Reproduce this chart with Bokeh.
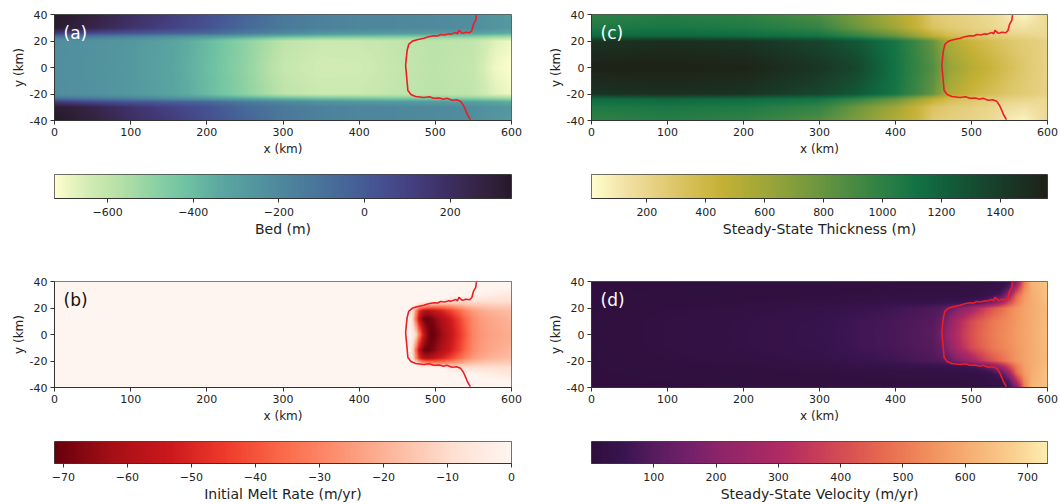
import numpy as np
from bokeh.embed import file_html
from bokeh.resources import INLINE
from bokeh.layouts import column, row
from bokeh.models import FixedTicker, Label, LinearColorMapper, Range1d
from bokeh.plotting import figure

x_ticks = [0, 100, 200, 300, 400, 500, 600]
y_ticks = [-40, -20, 0, 20, 40]
y_tick_labels = {-40: "-40", -20: "-20", 0: "0", 20: "20", 40: "40"}

# Half-width table rows (fields are mirrored about y = 0), km
bed_x = [0, 50, 100, 150, 200, 250, 300, 350, 400, 450, 500, 550, 580, 600]
bed_y = [0, 20, 22, 24, 26, 30, 40]
bed_m = [
    [-225, -240, -270, -320, -400, -500, -610, -645, -640, -610, -590, -610, -700, -722],
    [-222, -238, -265, -312, -392, -490, -590, -625, -625, -600, -585, -600, -670, -700],
    [-175, -190, -222, -270, -340, -420, -490, -525, -535, -535, -540, -555, -590, -610],
    [-50, -90, -130, -180, -230, -290, -350, -385, -400, -410, -420, -440, -470, -490],
    [130, 70, 20, -20, -60, -140, -200, -245, -265, -275, -285, -300, -330, -350],
    [320, 250, 170, 100, 30, -60, -130, -165, -185, -195, -200, -220, -250, -270],
    [345, 280, 190, 130, 45, -40, -125, -165, -185, -195, -205, -225, -260, -285],
]

thick_x = [0, 100, 200, 300, 350, 400, 430, 450, 470, 500, 530, 550, 570, 600]
thick_y = [0, 20, 24, 30, 40]
thick_m = [
    [1555, 1555, 1545, 1440, 1345, 1110, 960, 860, 640, 510, 420, 350, 280, 215],
    [1450, 1480, 1450, 1350, 1250, 1090, 930, 800, 540, 420, 340, 290, 260, 215],
    [1150, 1180, 1150, 1100, 980, 800, 620, 470, 370, 300, 250, 220, 200, 180],
    [1060, 1080, 1060, 980, 780, 600, 430, 320, 270, 230, 190, 150, 130, 170],
    [1000, 1030, 1000, 880, 720, 530, 420, 270, 240, 210, 170, 90, 50, 180],
]

melt_x = [0, 465, 470, 475, 480, 485, 490, 495, 500, 510, 520, 530, 540, 550, 560, 570, 600]
melt_y = [0, 12, 18, 22, 25, 30, 35, 40]
melt_rate = [
    [0, 0, -2, -10, -35, -55, -66, -71, -70, -63, -56, -48, -39, -30, -26, -24, -21],
    [0, 0, -8, -35, -60, -69, -71, -69, -66, -59, -53, -45, -36, -29, -25, -23, -19],
    [0, 0, -6, -28, -50, -58, -60, -58, -55, -50, -44, -37, -30, -25, -22, -20, -17],
    [0, 0, 0, -5, -14, -20, -24, -26, -27, -27, -25, -21, -18, -16, -15, -14, -13],
    [0, 0, 0, 0, 0, 0, 0, 0, 0, 0, -6, -8, -9, -9, -9, -9, -9],
    [0, 0, 0, 0, 0, 0, 0, 0, 0, 0, 0, 0, 0, -1, -2, -3, -6],
    [0, 0, 0, 0, 0, 0, 0, 0, 0, 0, 0, 0, 0, 0, 0, 0, -1],
    [0, 0, 0, 0, 0, 0, 0, 0, 0, 0, 0, 0, 0, 0, 0, 0, 0],
]

vel_x = [0, 100, 200, 300, 350, 400, 450, 460, 470, 480, 490, 500, 510, 520, 530, 540, 550, 560, 570, 580, 600]
vel_y = [0, 10, 20, 24, 27, 30, 35, 40]
vel_myr = [
    [6, 18, 28, 42, 62, 78, 105, 150, 240, 300, 360, 410, 450, 480, 505, 525, 545, 565, 585, 600, 640],
    [6, 18, 27, 40, 60, 76, 100, 130, 200, 280, 340, 395, 435, 470, 500, 520, 540, 560, 580, 600, 635],
    [5, 14, 20, 32, 45, 62, 85, 95, 120, 170, 210, 260, 320, 380, 430, 470, 520, 555, 580, 600, 630],
    [5, 10, 15, 22, 30, 38, 44, 48, 50, 54, 60, 72, 90, 130, 190, 280, 400, 510, 570, 600, 640],
    [5, 8, 12, 18, 22, 26, 28, 30, 32, 34, 38, 42, 52, 70, 110, 170, 320, 490, 565, 600, 645],
    [5, 7, 10, 14, 16, 18, 20, 20, 20, 20, 22, 24, 26, 35, 55, 90, 230, 460, 560, 605, 650],
    [4, 6, 8, 11, 13, 15, 16, 16, 16, 16, 18, 20, 22, 26, 30, 40, 110, 330, 530, 610, 650],
    [4, 5, 6, 8, 10, 12, 12, 12, 13, 13, 14, 15, 16, 18, 25, 30, 45, 180, 500, 620, 650],
]

# Grounding line (km)
gl_x = [554, 553, 550, 548, 545, 540, 537, 535, 531, 529, 527, 524, 520, 518, 512, 507, 503, 498, 491, 485,
        476, 470, 465, 463, 462, 461, 462, 463, 464, 468, 474, 485, 492, 498, 505, 511, 515, 522, 528, 533,
        537, 540, 542, 546]
gl_y = [39.5, 35.5, 32.5, 27.9, 26.2, 26.6, 26, 25.9, 28, 25.4, 26.4, 25.9, 25, 25.4, 24.5, 24.9, 23.8, 23.9, 23.2, 22.1,
        20.9, 19.9, 17.4, 12.8, 7.8, 1.5, -4.8, -11.1, -17.4, -20.4, -21.9, -22.6, -22.1, -23.2, -23, -23.9, -23.2, -24.7, -24.3, -25.4,
        -28.7, -32.5, -35.5, -39.3]

deep = ["#fdfecc", "#d3ecb5", "#b5e0a7", "#8ed2a4", "#6fc3a3", "#5ca9a1", "#54989f", "#4e879d",
        "#49769a", "#466498", "#465192", "#443f80", "#3d2f63", "#352444", "#281a2c"]
speed = ["#fffdcd", "#f2e2a6", "#e5cf7e", "#d6bf57", "#c4b135", "#a8a938", "#8aa03b", "#6b963f",
         "#4a8b43", "#2c8045", "#127244", "#125d3a", "#17482e", "#1a3423", "#1e2216"]
reds = ["#67000d", "#a50f15", "#cb181d", "#ef3b2c", "#fb6a4a", "#fc9272", "#fcbba1", "#fee0d2", "#fff5f0"]
matter = ["#2f0f3d", "#3a1450", "#5a1c5f", "#74206a", "#8f2569", "#a12766", "#b42c62", "#c93e59",
          "#da5351", "#e76b50", "#ef8558", "#f4a067", "#f7b87a", "#fad090", "#fdedb0"]


def ramp(colors, n=256):
    rgb = np.array([[int(c[i:i + 2], 16) for i in (1, 3, 5)] for c in colors], dtype=float)
    at = np.linspace(0, 1, len(colors))
    t = np.linspace(0, 1, n)
    out = np.stack([np.interp(t, at, rgb[:, k]) for k in range(3)], axis=1).round().astype(int)
    return ["#%02x%02x%02x" % tuple(v) for v in out]


def field(xs, ys, table):
    px = np.linspace(0, 600, 601)
    py = np.abs(np.linspace(-40, 40, 161))
    t = np.array(table, dtype=float)
    across = np.stack([np.interp(px, xs, r) for r in t])
    return np.stack([np.interp(py, ys, across[:, i]) for i in range(px.size)], axis=1)


TICK = "#222222"
LEFT = {"l": 54, "r": 34, "w": 545}
RIGHT = {"l": 46, "r": 13, "w": 515}


def style(ax, ticks, size="11px"):
    ax.ticker = FixedTicker(ticks=ticks)
    ax.major_tick_in = 0
    ax.major_tick_out = 4
    ax.minor_tick_line_color = None
    ax.major_label_text_font = "DejaVu Sans"
    ax.major_label_text_font_size = size
    ax.major_label_text_color = TICK
    ax.major_label_standoff = 3
    ax.axis_line_color = "#333333"
    ax.major_tick_line_color = "#333333"
    ax.axis_label_text_font = "DejaVu Sans"
    ax.axis_label_text_font_style = "normal"
    ax.axis_label_text_color = TICK


def panel(side, fig_h, top, xs, ys, table, colors, low, high, tag, tag_color):
    p = figure(width=side["w"], height=fig_h, x_range=Range1d(0, 600), y_range=Range1d(-40, 40),
               toolbar_location=None, output_backend="svg", min_border_left=side["l"], min_border_right=side["r"],
               min_border_top=top, min_border_bottom=fig_h - top - 106, background_fill_color=None, border_fill_color=None)
    p.grid.visible = False
    mapper = LinearColorMapper(palette=ramp(colors), low=low, high=high)
    p.image(image=[field(xs, ys, table)], x=0, y=-40, dw=600, dh=80, color_mapper=mapper)
    p.line(gl_x, gl_y, line_color="#ee1c25", line_width=1.6)
    p.outline_line_color = "#555555"
    style(p.xaxis[0], x_ticks)
    style(p.yaxis[0], y_ticks)
    p.yaxis[0].major_label_overrides = y_tick_labels
    p.xaxis[0].axis_label = "x (km)"
    p.yaxis[0].axis_label = "y (km)"
    p.xaxis[0].axis_label_text_font_size = "12px"
    p.yaxis[0].axis_label_text_font_size = "12px"
    p.xaxis[0].axis_label_standoff = 3
    p.yaxis[0].axis_label_standoff = 1
    p.add_layout(Label(x=9, y=88, x_units="screen", y_units="screen", text=tag, text_color=tag_color,
                       text_font="DejaVu Sans", text_font_size="17px", text_baseline="middle"))
    return p


def cbar(side, fig_h, bottom, colors, low, high, ticks, title):
    p = figure(width=side["w"], height=fig_h, x_range=Range1d(low, high), y_range=Range1d(0, 1),
               toolbar_location=None, output_backend="svg", min_border_left=side["l"], min_border_right=side["r"],
               min_border_top=12, min_border_bottom=bottom, background_fill_color=None, border_fill_color=None)
    p.grid.visible = False
    p.yaxis.visible = False
    mapper = LinearColorMapper(palette=ramp(colors), low=low, high=high)
    p.image(image=[np.linspace(low, high, 512)[None, :]], x=low, y=0, dw=high - low, dh=1, color_mapper=mapper)
    p.outline_line_color = "#444444"
    ax = p.xaxis[0]
    style(ax, ticks)
    ax.major_label_standoff = 5
    ax.major_label_overrides = {t: str(t).replace("-", "\u2212") for t in ticks}
    ax.axis_label = title
    ax.axis_label_text_font_size = "14px"
    ax.axis_label_standoff = 2
    return p


a = panel(LEFT, 162, 14, bed_x, bed_y, bed_m, deep, -724, 343, "(a)", "white")
c = panel(RIGHT, 162, 14, thick_x, thick_y, thick_m, speed, 12, 1560, "(c)", "white")
b = panel(LEFT, 154, 6, melt_x, melt_y, melt_rate, reds, -71.4, 0, "(b)", "#111111")
d = panel(RIGHT, 154, 6, vel_x, vel_y, vel_myr, matter, 0, 732, "(d)", "white")
ca = cbar(LEFT, 113, 77, deep, -724, 343, [-600, -400, -200, 0, 200], "Bed (m)")
cc = cbar(RIGHT, 113, 77, speed, 12, 1560, [200, 400, 600, 800, 1000, 1200, 1400], "Steady-State Thickness (m)")
cb = cbar(LEFT, 75, 39, reds, -71.4, 0, [-70, -60, -50, -40, -30, -20, -10, 0], "Initial Melt Rate (m/yr)")
cd = cbar(RIGHT, 75, 39, matter, 0, 732, [100, 200, 300, 400, 500, 600, 700], "Steady-State Velocity (m/yr)")

page = column(row(a, c), row(ca, cc), row(b, d), row(cb, cd), spacing=0)
open("out.html", "w").write(file_html(page, INLINE))
